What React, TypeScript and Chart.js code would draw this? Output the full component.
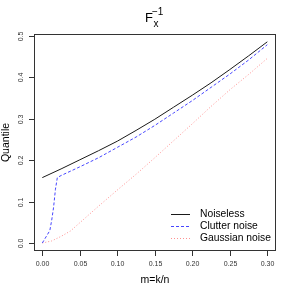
import React, { useEffect, useRef } from "react";
import { Chart, registerables } from "chart.js";

Chart.register(...registerables);

const noiselessX = [0, 0.025, 0.05, 0.075, 0.1, 0.125, 0.15, 0.175, 0.2, 0.225, 0.25, 0.275, 0.3];
const noiselessY = [0.158, 0.179, 0.201, 0.223, 0.246, 0.272, 0.299, 0.328, 0.357, 0.387, 0.419, 0.452, 0.486];

const clutterX = [0, 0.01, 0.0125, 0.015, 0.0175, 0.02, 0.025, 0.05, 0.075, 0.1, 0.125, 0.15, 0.175, 0.2, 0.225, 0.25, 0.275, 0.3];
const clutterY = [0, 0.03, 0.055, 0.086, 0.13, 0.158, 0.163, 0.184, 0.206, 0.231, 0.256, 0.284, 0.314, 0.344, 0.376, 0.408, 0.442, 0.479];

const gaussX = [0, 0.0125, 0.025, 0.0375, 0.05, 0.075, 0.1, 0.125, 0.15, 0.175, 0.2, 0.225, 0.25, 0.275, 0.3];
const gaussY = [0, 0.005, 0.016, 0.029, 0.049, 0.089, 0.128, 0.166, 0.206, 0.247, 0.288, 0.33, 0.37, 0.407, 0.446];

const seriesNames = ["Noiseless", "Clutter noise", "Gaussian noise"];

const xTicks = [0, 0.05, 0.1, 0.15, 0.2, 0.25, 0.3];
const xTickLabels = ["0.00", "0.05", "0.10", "0.15", "0.20", "0.25", "0.30"];
const yTicks = [0, 0.1, 0.2, 0.3, 0.4, 0.5];
const yTickLabels = ["0.0", "0.1", "0.2", "0.3", "0.4", "0.5"];

const xTitle = "m=k/n";
const yTitle = "Quantile";

const FONT = "'Liberation Sans', Arial, sans-serif";

const colors = ["#1a1a1a", "#4646ff", "#ff9090"];
const dashes: number[][] = [[], [3, 2], [1, 2]];

function pts(xs: number[], ys: number[]) {
  return xs.map((x, i) => ({ x, y: ys[i] }));
}

export default function App() {
  const ref = useRef<HTMLCanvasElement | null>(null);

  useEffect(() => {
    const canvas = ref.current;
    if (!canvas) return;

    const decor = {
      id: "decor",
      afterDraw(chart: any) {
        const ctx = chart.ctx as CanvasRenderingContext2D;
        const a = chart.chartArea;
        const xs = chart.scales.x;
        const ys = chart.scales.y;
        ctx.save();
        // frame
        ctx.strokeStyle = "#333";
        ctx.lineWidth = 1;
        ctx.setLineDash([]);
        ctx.strokeRect(Math.round(a.left) + 0.5, Math.round(a.top) + 0.5, Math.round(a.right - a.left) - 1, Math.round(a.bottom - a.top) - 1);

        // x ticks
        ctx.fillStyle = "#333";
        ctx.font = `7px ${FONT}`;
        ctx.textAlign = "center";
        ctx.textBaseline = "middle";
        xTicks.forEach((v, i) => {
          const px = Math.round(xs.getPixelForValue(v)) + 0.5;
          ctx.beginPath();
          ctx.moveTo(px, a.bottom);
          ctx.lineTo(px, a.bottom + 5);
          ctx.stroke();
          ctx.fillText(xTickLabels[i], px, a.bottom + 13.5);
        });
        // y ticks
        yTicks.forEach((v, i) => {
          const py = Math.round(ys.getPixelForValue(v)) + 0.5;
          ctx.beginPath();
          ctx.moveTo(a.left - 5, py);
          ctx.lineTo(a.left, py);
          ctx.stroke();
          ctx.save();
          ctx.translate(a.left - 12.5, py);
          ctx.rotate(-Math.PI / 2);
          ctx.fillText(yTickLabels[i], 0, 0);
          ctx.restore();
        });

        // axis titles
        ctx.fillStyle = "#000";
        ctx.font = `10.5px ${FONT}`;
        ctx.textAlign = "center";
        ctx.textBaseline = "alphabetic";
        ctx.fillText(xTitle, (a.left + a.right) / 2, 283);
        ctx.save();
        ctx.translate(9, (a.top + a.bottom) / 2);
        ctx.rotate(-Math.PI / 2);
        ctx.fillText(yTitle, 0, 0);
        ctx.restore();

        // title F_x^{-1}
        ctx.textAlign = "left";
        ctx.font = `13px ${FONT}`;
        ctx.fillText("F", 145, 21.7);
        ctx.font = `10px ${FONT}`;
        ctx.fillText("\u22121", 152, 15);
        ctx.fillText("x", 153.5, 26.5);

        // legend
        ctx.font = `10.3px ${FONT}`;
        ctx.textBaseline = "middle";
        const rows = [214, 226, 238];
        seriesNames.forEach((name, i) => {
          ctx.strokeStyle = colors[i];
          ctx.setLineDash(dashes[i]);
          ctx.beginPath();
          ctx.moveTo(171, rows[i] + 0.5);
          ctx.lineTo(190, rows[i] + 0.5);
          ctx.stroke();
          ctx.fillStyle = "#000";
          ctx.fillText(name, 200, rows[i] + 0.5);
        });
        ctx.restore();
      },
    };

    const chart = new Chart(canvas, {
      type: "line",
      data: {
        datasets: [
          { label: seriesNames[0], data: pts(noiselessX, noiselessY), borderColor: colors[0], borderWidth: 1, borderDash: dashes[0], pointRadius: 0, fill: false, tension: 0 },
          { label: seriesNames[1], data: pts(clutterX, clutterY), borderColor: colors[1], borderWidth: 1, borderDash: dashes[1], pointRadius: 0, fill: false, tension: 0 },
          { label: seriesNames[2], data: pts(gaussX, gaussY), borderColor: colors[2], borderWidth: 1, borderDash: dashes[2], pointRadius: 0, fill: false, tension: 0 },
        ],
      },
      options: {
        animation: false,
        responsive: false,
        devicePixelRatio: 1,
        layout: { padding: { left: 34, right: 18, top: 34, bottom: 43 } },
        plugins: { legend: { display: false }, title: { display: false }, tooltip: { enabled: false } },
        scales: {
          x: { type: "linear", min: -0.0111, max: 0.3116, display: false },
          y: { type: "linear", min: -0.0193, max: 0.5049, display: false },
        },
      },
      plugins: [decor],
    });
    return () => chart.destroy();
  }, []);

  return (
    <div style={{ position: "absolute", left: 0, top: 0, width: 294, height: 294, background: "#fff" }}>
      <canvas ref={ref} width={294} height={294} style={{ display: "block", width: 294, height: 294 }} />
    </div>
  );
}
